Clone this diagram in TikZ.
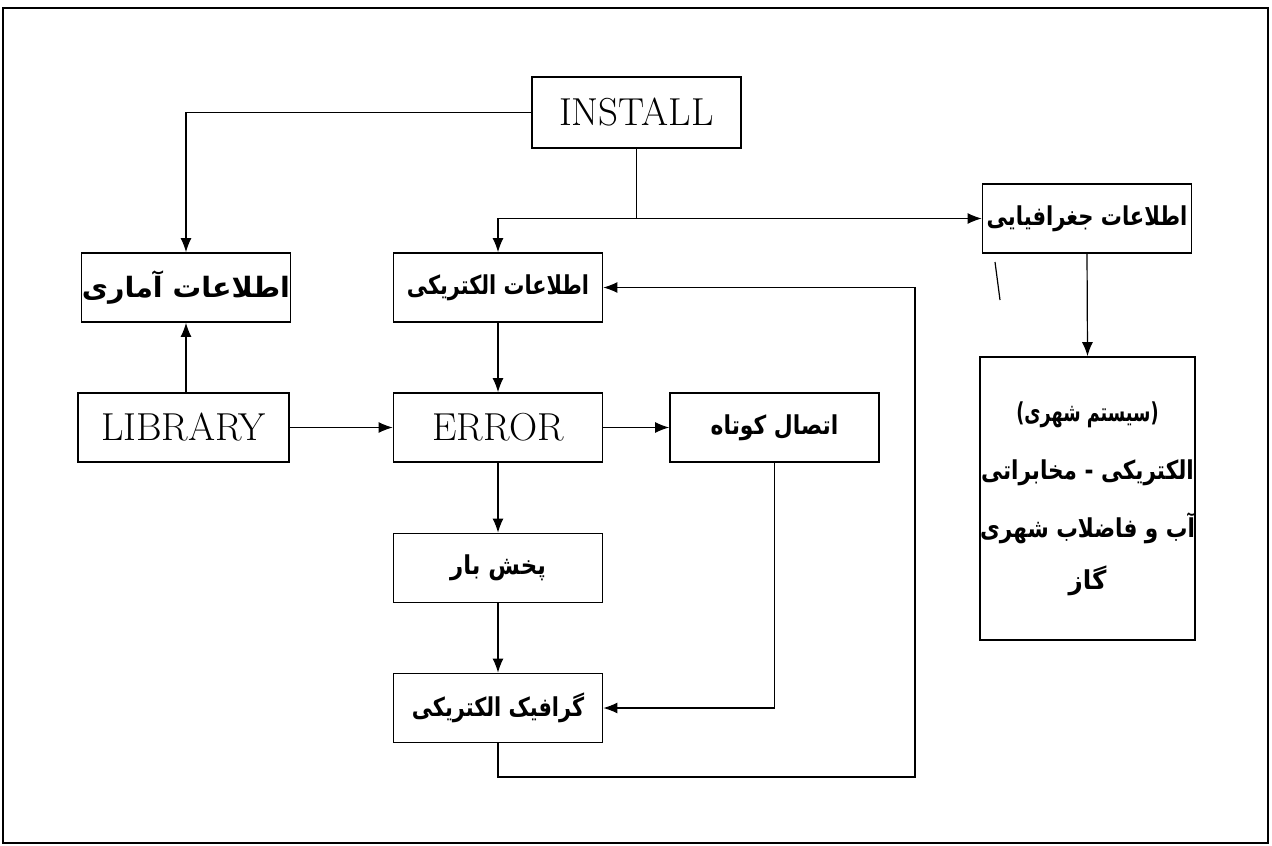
\documentclass[tikz,border=0pt]{standalone}
\usepackage{fontspec}
\usetikzlibrary{arrows.meta}
\TeXXeTstate=1
\newfontfamily\fafont[Script=Arabic]{DejaVu Sans}
\newcommand{\fat}[2][0.82]{{\fafont\bfseries\addfontfeature{FakeStretch=#1}\beginR #2\endR}}
\begin{document}
\begin{tikzpicture}[x=0.5pt,y=-0.5pt,
  box/.style={draw, line width=0.85pt, inner sep=0pt, minimum width=104.5pt, minimum height=34.5pt},
  lat/.style={font=\fontsize{19.5}{24}\selectfont\addfontfeature{FakeStretch=0.76}},
  per/.style={font=\fontsize{13}{16}\selectfont},
  arr/.style={line width=0.6pt, -{Latex[length=7pt,width=5.5pt]}},
  ln/.style={line width=0.6pt}]
\useasboundingbox (0,0) rectangle (1272,845);
\draw[line width=1pt] (3,8) rectangle (1268,843);

\node[box, lat, minimum height=35.5pt] (install) at (636.5,112.5) {INSTALL};
\node[box, per, font=\fontsize{14}{16}\selectfont] (stats) at (186,287.5) {\fat[1.02]{اطلاعات آماری}};
\node[box, per] (elec) at (498,287.5) {\fat[0.8]{اطلاعات الکتریکی}};
\node[box, per] (geo) at (1087,218.5) {\fat[0.81]{اطلاعات جغرافیایی}};
\node[box, per, minimum height=141.5pt, align=center] (urban) at (1087.5,498.5)
  {\fat[0.68]{(سیستم شهری)}\\[13pt]\fat[0.83]{الکتریکی - مخابراتی}\\[13pt]\fat[0.83]{آب و فاضلاب شهری}\\[10pt]\fat[0.95]{گاز}};
\node[box, lat, minimum width=105.5pt] (library) at (183.5,427.5) {LIBRARY};
\node[box, lat] (error) at (498,427.5) {ERROR};
\node[box, per] (short) at (774.5,427.5) {\fat[0.84]{اتصال کوتاه}};
\node[box, per] (power) at (498,568) {\fat[0.88]{پخش بار}};
\node[box, per] (graph) at (498,708) {\fat[0.8]{گرافیک الکتریکی}};

\coordinate (loop) at (915,777);
\coordinate (s1) at (995,262);
\coordinate (s2) at (1000,300);

\draw[arr] (install.west) -| (stats.north);
\draw[arr] (install.south) |- (geo.west);
\draw[arr] (install.south |- geo.west) -| (elec.north);
\draw[arr] (stats.south |- library.north) -- (stats.south);
\draw[arr] (library.east) -- (error.west);
\draw[arr] (elec.south) -- (error.north);
\draw[arr] (error.east) -- (short.west);
\draw[arr] (error.south) -- (power.north);
\draw[arr] (power.south) -- (graph.north);
\draw[arr] (short.south) |- (graph.east);
\draw[arr] (graph.south) |- (loop) |- (elec.east);
\draw[arr] (geo.south) -- (urban.north);
\draw[ln] (s1) -- (s2);
\end{tikzpicture}
\end{document}
